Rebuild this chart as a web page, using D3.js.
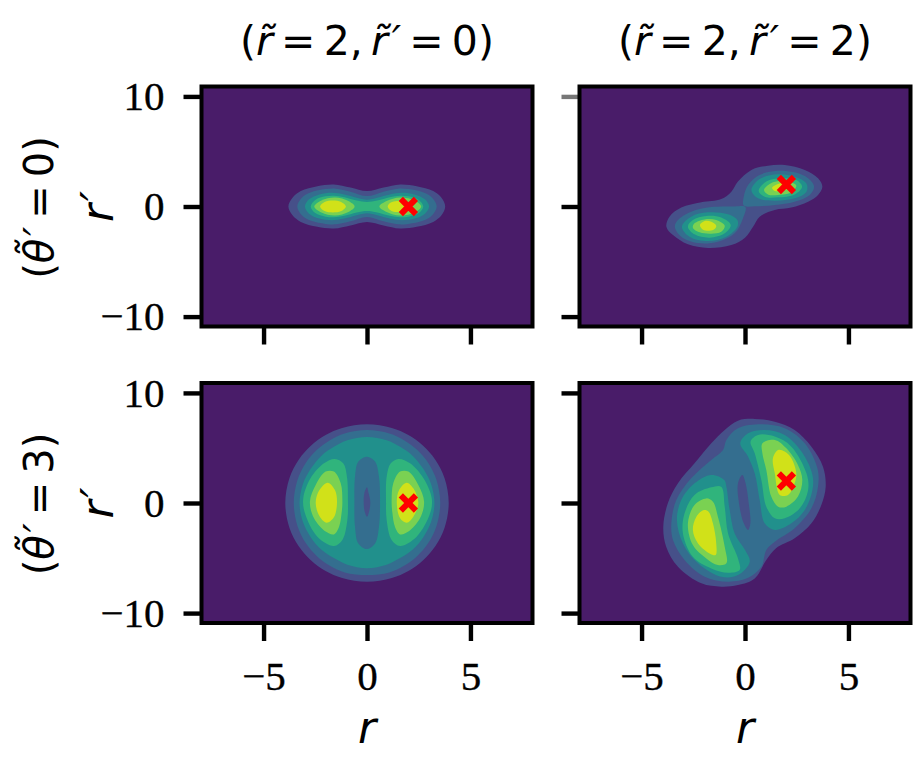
<!DOCTYPE html>
<html><head><meta charset="utf-8">
<script src="https://cdn.jsdelivr.net/npm/d3@7/dist/d3.min.js"></script>
<style>html,body{margin:0;padding:0;background:#fff}svg{display:block}</style>
</head><body><svg id="c" width="924" height="770"></svg>
<script>
// Filled contour bands: colours by level
const levelColors = ["#491c69","#465089","#346e8f","#21908c","#30b47c","#7ad152","#d1e119"];
const xTicks = [-5,0,5];
const yTicks = [-10,0,10];
const colTitles = [["=\u20092,\u2009","=\u20090)"],["=\u20092,\u2009","=\u20092)"]];
const rowTitles = ["=\u20090)","=\u20093)"];
const markers = [[2,0],[2,2],[2,0],[2,2]];

// Panel (r~=2, r~'=0, theta'=0): outlines as [r, r']
const a1 = [[3.78,0],[3.6,.8],[3.2,1.4],[2.4,1.85],[1.6,2],[.8,1.72],[0,1.4],[-.8,1.72],[-1.6,2],[-2.4,1.85],[-3.2,1.4],[-3.6,.8],[-3.8,0],[-3.6,-.8],[-3.2,-1.4],[-2.4,-1.85],[-1.6,-2],[-.8,-1.72],[0,-1.4],[.8,-1.72],[1.6,-2],[2.4,-1.85],[3.2,-1.4],[3.6,-.8]];
const a2 = [[3.37,0],[3.15,.8],[2.7,1.3],[2,1.58],[1.5,1.62],[.8,1.35],[0,.95],[-.8,1.35],[-1.5,1.62],[-2,1.58],[-2.7,1.3],[-3.15,.8],[-3.37,0],[-3.15,-.8],[-2.7,-1.3],[-2,-1.58],[-1.5,-1.62],[-.8,-1.35],[0,-.95],[.8,-1.35],[1.5,-1.62],[2,-1.58],[2.7,-1.3],[3.15,-.8]];
const a3 = [[3,0],[2.8,.65],[2.3,1.1],[1.7,1.25],[1.1,1.1],[.5,.8],[0,.62],[-.5,.8],[-1.1,1.1],[-1.7,1.25],[-2.3,1.1],[-2.8,.65],[-3,0],[-2.8,-.65],[-2.3,-1.1],[-1.7,-1.25],[-1.1,-1.1],[-.5,-.8],[0,-.62],[.5,-.8],[1.1,-1.1],[1.7,-1.25],[2.3,-1.1],[2.8,-.65]];
const a4 = [[2.72,0],[2.5,.6],[2,.92],[1.6,.98],[1.1,.85],[.5,.55],[0,.42],[-.5,.55],[-1.1,.85],[-1.6,.98],[-2,.92],[-2.5,.6],[-2.72,0],[-2.5,-.6],[-2,-.92],[-1.6,-.98],[-1.1,-.85],[-.5,-.55],[0,-.42],[.5,-.55],[1.1,-.85],[1.6,-.98],[2,-.92],[2.5,-.6]];
const a5L = [[-.6,0],[-.9,.5],[-1.55,.82],[-2.2,.55],[-2.55,0],[-2.2,-.55],[-1.55,-.82],[-.9,-.5]];
const a5R = [[2.62,0],[2.3,.55],[1.6,.82],[.95,.5],[.6,0],[.95,-.5],[1.6,-.82],[2.3,-.55]];
const a6L = [[-1.02,0],[-1.25,.42],[-1.65,.55],[-2.05,.42],[-2.27,0],[-2.05,-.42],[-1.65,-.55],[-1.25,-.42]];
const a6R = [[1.95,0],[1.75,.4],[1.45,.5],[1.15,.36],[1,0],[1.15,-.36],[1.45,-.5],[1.75,-.4]];

// Panel (r~=2, r~'=2, theta'=0)
const b1 = [[3.74,1.8],[3.53,1.05],[3.05,.44],[2.24,-.1],[1.44,-.32],[.71,-.92],[.39,-1.83],[0,-2.83],[-.66,-3.5],[-1.79,-3.77],[-2.76,-3.44],[-3.48,-2.6],[-3.8,-1.83],[-3.65,-.92],[-3.08,-.1],[-2.11,.38],[-1.15,.68],[-.66,1.35],[-.34,2.26],[.31,3.32],[1.11,3.71],[1.92,3.77],[2.89,3.32],[3.53,2.56]];
const b2U = [[-.06,.08],[-.06,.89],[.15,1.95],[.63,2.8],[1.44,3.23],[2.4,3.1],[3.05,2.56],[3.34,1.8],[3.13,1.05],[2.4,.44],[1.44,.14],[.47,.02]];
const b2L = [[.02,-.05],[-.5,0],[-1.63,-.05],[-2.6,-.47],[-3.24,-1.23],[-3.39,-1.83],[-3.08,-2.74],[-2.27,-3.32],[-1.31,-3.2],[-.5,-2.44],[-.1,-1.08]];
const b3U = [[.31,1.5],[.71,2.5],[1.6,2.92],[2.4,2.71],[2.97,2.1],[2.97,1.35],[2.4,.74],[1.44,.53],[.63,.74]];
const b3L = [[-.37,-1.23],[-.82,-.71],[-1.79,-.53],[-2.6,-.92],[-3.05,-1.83],[-2.68,-2.74],[-1.79,-3.14],[-.9,-2.74],[-.37,-1.83]];
const b4U = [[.66,1.41],[1.03,2.26],[1.76,2.56],[2.48,2.41],[2.76,1.8],[2.4,1.1],[1.6,.83],[.95,.89]];
const b4L = [[-.69,-1.68],[-1.15,-1],[-1.87,-.87],[-2.52,-1.23],[-2.76,-1.83],[-2.44,-2.53],[-1.71,-2.83],[-.98,-2.44]];
const b5U = [[.92,1.5],[1.35,2.2],[2,2.32],[2.48,1.9],[2.24,1.29],[1.6,1.05],[1.11,1.1]];
const b5L = [[-.98,-1.74],[-1.39,-1.23],[-1.95,-1.17],[-2.44,-1.53],[-2.52,-1.92],[-2.19,-2.35],[-1.63,-2.47],[-1.15,-2.29]];
const b6U = [[1.31,1.71],[1.6,2.05],[2,2.1],[2.08,1.65],[1.68,1.41],[1.44,1.41]];
const b6L = [[-1.39,-1.74],[-1.63,-1.38],[-1.95,-1.32],[-2.18,-1.68],[-2.03,-2.11],[-1.71,-2.2],[-1.47,-2.05]];

// Panel (r~=2, r~'=0, theta'=3)
const c1 = [[3.95,0],[3.75,2.25],[3.3,3.93],[2.7,5.22],[2,6.17],[1.2,6.81],[0,7.15],[-1.2,6.81],[-2,6.17],[-2.7,5.22],[-3.3,3.93],[-3.75,2.25],[-3.95,0],[-3.75,-2.25],[-3.3,-3.93],[-2.7,-5.22],[-2,-6.17],[-1.2,-6.81],[0,-7.15],[1.2,-6.81],[2,-6.17],[2.7,-5.22],[3.3,-3.93],[3.75,-2.25]];
const c2 = [[3.54,0],[3.36,2.08],[2.96,3.64],[2.42,4.83],[1.79,5.71],[1.08,6.31],[0,6.62],[-1.08,6.31],[-1.79,5.71],[-2.42,4.83],[-2.96,3.64],[-3.36,2.08],[-3.54,0],[-3.36,-2.08],[-2.96,-3.64],[-2.42,-4.83],[-1.79,-5.71],[-1.08,-6.31],[0,-6.55],[1.08,-6.31],[1.79,-5.71],[2.42,-4.83],[2.96,-3.64],[3.36,-2.08]];
const c3 = [[3.26,0],[3.1,1.7],[2.72,3.1],[2.2,4.3],[1.6,5.1],[.95,5.7],[0,6],[-.95,5.7],[-1.6,5.1],[-2.2,4.3],[-2.72,3.1],[-3.1,1.7],[-3.26,0],[-3.1,-1.7],[-2.72,-3.1],[-2.2,-4.25],[-1.6,-5],[-.95,-5.6],[0,-5.92],[.95,-5.6],[1.6,-5],[2.2,-4.25],[2.72,-3.1],[3.1,-1.7]];
const cBar = [[.63,.12],[.58,2.39],[.39,3.76],[0,4.21],[-.42,3.76],[-.58,2.39],[-.61,.12],[-.58,-2.15],[-.42,-3.67],[0,-4.18],[.39,-3.67],[.58,-2.15]];
const cHole = [[.16,.1],[.06,1.03],[0,1.42],[-.13,.88],[-.16,.1],[-.11,-.79],[0,-1.24],[.1,-.79]];
const c4R = [[.92,.12],[.95,2.39],[1.15,3.6],[1.52,4],[2.08,3.6],[2.73,2.24],[3.13,.42],[3.05,-.94],[2.4,-3.06],[1.6,-3.9],[1.19,-3.36],[.95,-1.55]];
const c4L = [[-.92,.12],[-.97,2.39],[-1.15,3.6],[-1.55,4],[-2.08,3.6],[-2.73,2.24],[-3.08,.42],[-3,-.94],[-2.4,-3.06],[-1.6,-3.9],[-1.19,-3.36],[-.95,-1.55]];
const c5R = [[1.19,.12],[1.27,1.79],[1.6,2.85],[2,2.85],[2.48,1.64],[2.76,.12],[2.56,-1.39],[2,-2.6],[1.6,-2.85],[1.35,-2.15],[1.23,-.94]];
const c5L = [[-1.19,.12],[-1.27,1.79],[-1.6,2.85],[-2,2.85],[-2.48,1.64],[-2.76,.12],[-2.56,-1.39],[-2,-2.6],[-1.6,-2.85],[-1.35,-2.15],[-1.23,-.94]];
const c6R = [[1.44,.03],[1.55,1.18],[1.92,1.85],[2.24,1.33],[2.48,.03],[2.24,-1.24],[1.92,-1.79],[1.6,-1.39]];
const c6L = [[-1.45,.03],[-1.55,1.18],[-1.9,1.85],[-2.3,1.18],[-2.48,.03],[-2.3,-1.18],[-1.95,-1.79],[-1.6,-1.3]];

// Panel (r~=2, r~'=2, theta'=3)
const d1 = [[.47,7.64],[1.44,7.39],[2.4,6.64],[3.21,5.12],[3.77,3.3],[3.9,1.48],[3.69,-.18],[3.21,-1.85],[2.4,-3.21],[1.5,-4.1],[1.03,-5.18],[.47,-6.85],[-.34,-7.45],[-1.15,-7.6],[-2.11,-7.3],[-3.24,-5.79],[-3.81,-3.97],[-3.95,-2.15],[-3.73,-.03],[-3.24,1.79],[-2.44,3.6],[-1.63,5.42],[-.98,6.64],[-.34,7.48]];
const d2 = [[.79,7.15],[1.92,6.79],[2.89,5.42],[3.5,3.15],[3.53,1.48],[3.21,-.48],[2.4,-2.3],[1.44,-3.52],[1.03,-4.27],[.79,-5.79],[.15,-6.8],[-.82,-7.15],[-1.95,-6.7],[-2.92,-5.18],[-3.48,-3.36],[-3.56,-1.85],[-3.32,.27],[-2.6,2.24],[-1.63,3.91],[-1.06,4.82],[-.9,5.73],[-.34,6.79]];
const dHole = [[-.13,2.55],[-.34,1.79],[-.29,-.03],[-.06,-1.85],[.15,-2.45],[.26,-1.85],[.18,-.03],[.03,1.79]];
const d3U = [[-.23,5.42],[.15,6.33],[.95,6.64],[1.92,6.18],[2.73,4.67],[3.26,2.55],[3.26,1.18],[2.89,-.64],[2.24,-1.85],[1.44,-2.45],[.95,-1.85],[.71,.27],[.47,2.7],[.15,4.21]];
const d3L = [[-1,2.09],[-1.63,2.55],[-2.44,1.79],[-3.08,.27],[-3.29,-1.55],[-3,-3.67],[-2.27,-5.48],[-1.15,-6.7],[-.34,-6.55],[.23,-5.33],[0,-4.27],[-.5,-2.76],[-.74,-.64],[-.9,1.48]];
const d4U = [[.27,5.58],[.63,6.18],[1.44,6.03],[2.24,5.12],[2.97,2.7],[3.05,1.18],[2.65,-.48],[1.92,-1.39],[1.44,-1.39],[1.03,-.33],[.79,2.09],[.47,4.52]];
const d4L = [[-1.15,1.48],[-1.63,1.42],[-2.44,.73],[-2.92,-.94],[-3,-2.76],[-2.52,-4.88],[-1.63,-5.94],[-.82,-6.33],[-.26,-6.09],[-.34,-5.03],[-.82,-2.76],[-.98,-.33]];
const d5U = [[.84,5.42],[1.44,5.73],[2,4.97],[2.56,3.45],[2.77,2.09],[2.56,.58],[2,-.33],[1.6,-.33],[1.27,.58],[1.03,3],[.84,4.52]];
const d5L = [[-1.87,.42],[-2.44,-.18],[-2.76,-1.85],[-2.52,-3.82],[-1.87,-5.03],[-1.31,-5.64],[-.9,-5.48],[-.98,-3.97],[-1.31,-1.24],[-1.55,.12]];
const d6U = [[1.6,4.82],[1.35,4.06],[1.44,2.7],[1.68,.73],[2.08,.73],[2.4,1.79],[2.48,2.7],[2.24,4.06],[1.92,4.67]];
const d6L = [[-1.98,-.64],[-2.35,-1.24],[-2.52,-2.45],[-2.27,-3.67],[-1.71,-4.58],[-1.42,-4.73],[-1.39,-3.67],[-1.55,-1.85],[-1.76,-.79]];

// Which band colour each outline is painted with, back to front
const panelRegions = [
  [[1,a1],[2,a2],[3,a3],[4,a4],[5,a5L],[5,a5R],[6,a6L],[6,a6R]],
  [[1,b1],[2,b2U],[2,b2L],[3,b3U],[3,b3L],[4,b4U],[4,b4L],[5,b5U],[5,b5L],[6,b6U],[6,b6L]],
  [[1,c1],[2,c2],[3,c3],[2,cBar],[1,cHole],[4,c4R],[4,c4L],[5,c5R],[5,c5L],[6,c6R],[6,c6L]],
  [[1,d1],[2,d2],[1,dHole],[3,d3U],[3,d3L],[4,d4U],[4,d4L],[5,d5U],[5,d5L],[6,d6U],[6,d6L]]
];

const layout = {xL:[201.5,579.5], w:331, yT:[86.5,383], h:240};
const svg = d3.select("#c");
const serif = "'Liberation Serif', serif", sans = "'DejaVu Sans', sans-serif";

panelRegions.forEach((regions,i)=>{
  const col=i%2,row=Math.floor(i/2);
  const x0=layout.xL[col],y0=layout.yT[row];
  const x=d3.scaleLinear().domain([-8,8]).range([x0,x0+layout.w]);
  const y=d3.scaleLinear().domain([-10.9,10.9]).range([y0+layout.h,y0]);
  const g=svg.append("g");
  g.append("rect").attr("x",x0).attr("y",y0).attr("width",layout.w).attr("height",layout.h).attr("fill",levelColors[0]);
  const line=d3.line().x(d=>x(d[0])).y(d=>y(d[1])).curve(d3.curveCatmullRomClosed.alpha(0.5));
  g.selectAll("path.band").data(regions).join("path").attr("class","band")
    .attr("d",d=>line(d[1])).attr("fill",d=>levelColors[d[0]]);
  const m=markers[i];
  g.append("path").attr("d",d3.symbol().type(d3.symbolTimes).size(150)())
    .attr("transform",`translate(${x(m[0])},${y(m[1])})`)
    .attr("fill","none").attr("stroke","#ff0000").attr("stroke-width",6);

  const fmt=v=>String(v).replace("-","\u2212");
  const ax=d3.axisLeft(y).tickValues(yTicks).tickSize(18).tickPadding(19).tickFormat(col===0?fmt:"");
  const ay=g.append("g").attr("transform",`translate(${x0},0)`).call(ax);
  const bx=d3.axisBottom(x).tickValues(xTicks).tickSize(18).tickPadding(20).tickFormat(row===1?fmt:"");
  const by=g.append("g").attr("transform",`translate(0,${y0+layout.h})`).call(bx);
  [ay,by].forEach(a=>{
    a.select(".domain").remove();
    a.selectAll("line").attr("stroke","#000").attr("stroke-width",4.4);
    a.selectAll("text").attr("font-family",serif).attr("font-size",41).attr("fill","#000")
      .attr("stroke","#000").attr("stroke-width",0.35);
  });
  if(i===1) ay.selectAll("line").filter(d=>d===10).attr("stroke","#777");
  g.append("rect").attr("x",x0).attr("y",y0).attr("width",layout.w).attr("height",layout.h)
    .attr("fill","none").attr("stroke","#000").attr("stroke-width",4);

  if(row===0){
    const t=svg.append("text").attr("x",x(0)).attr("y",55).attr("text-anchor","middle")
      .attr("font-family",sans).attr("font-size",41).attr("fill","#000");
    t.append("tspan").text("(");
    t.append("tspan").attr("font-style","italic").text("r\u0303");
    t.append("tspan").text("\u2009"+colTitles[col][0]);
    t.append("tspan").attr("font-style","italic").text("r\u0303");
    t.append("tspan").attr("font-style","italic").attr("dx",4).text("\u2032");
    t.append("tspan").text("\u2009"+colTitles[col][1]);
  } else {
    svg.append("text").attr("x",x(0)).attr("y",743).attr("text-anchor","middle")
      .attr("font-family",sans).attr("font-style","italic").attr("font-size",44).text("r");
  }
  if(col===0){
    const cy=y(0);
    const rl=svg.append("text").attr("transform",`translate(113,${cy}) rotate(-90)`).attr("text-anchor","middle")
      .attr("font-family",sans).attr("font-style","italic").attr("font-size",44);
    rl.append("tspan").text("r");
    rl.append("tspan").attr("dx",3).text("\u2032");
    const t=svg.append("text").attr("transform",`translate(53,${cy+1}) rotate(-90)`).attr("text-anchor","middle")
      .attr("font-family",sans).attr("font-size",40).attr("fill","#000");
    t.append("tspan").text("(");
    t.append("tspan").attr("font-style","italic").text("\u03b8\u0303");
    t.append("tspan").attr("font-style","italic").attr("dx",3).text("\u2032");
    t.append("tspan").text("\u2009"+rowTitles[row]);
  }
});
</script></body></html>
